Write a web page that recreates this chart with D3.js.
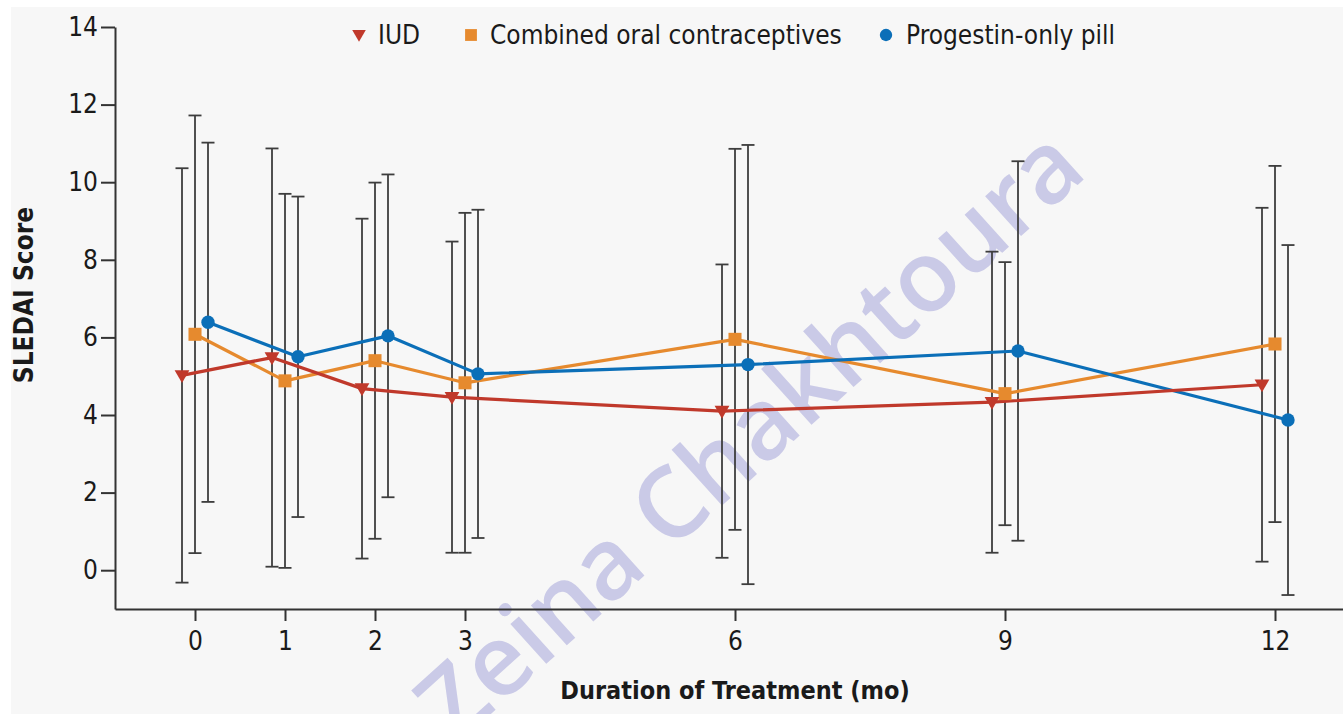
<!DOCTYPE html>
<html>
<head>
<meta charset="utf-8">
<script src="https://cdn.jsdelivr.net/npm/d3@7"></script>
<style>
  html, body { margin: 0; padding: 0; background: #ffffff; }
  svg { display: block; }
  .lbl { font-family: "Liberation Sans Narrow", "DejaVu Sans Condensed", Lato, sans-serif; fill: #1a1a1a; }
</style>
</head>
<body>
<svg id="chart" width="1343" height="714"></svg>
<script>
// ---- data ----
const months = [0, 1, 2, 3, 6, 9, 12];
const seriesNames = ["IUD", "Combined oral contraceptives", "Progestin-only pill"];
const iudMean = [5.02, 5.48, 4.68, 4.46, 4.10, 4.33, 4.78];
const iudSD   = [5.34, 5.39, 4.38, 4.01, 3.78, 3.88, 4.56];
const cocMean = [6.08, 4.88, 5.40, 4.83, 5.95, 4.55, 5.83];
const cocSD   = [5.64, 4.82, 4.59, 4.38, 4.91, 3.39, 4.59];
const popMean = [6.39, 5.50, 6.04, 5.06, 5.30, 5.65, 3.87];
const popSD   = [4.63, 4.13, 4.16, 4.23, 5.66, 4.89, 4.51];
const yTicks = [0, 2, 4, 6, 8, 10, 12, 14];
const xTicks = [0, 1, 2, 3, 6, 9, 12];
const xTitle = "Duration of Treatment (mo)";
const yTitle = "SLEDAI Score";
const watermark = "Zeina Chakhtoura";

// ---- styles ----
const colors = ["#c0392b", "#e68a2e", "#0b6fb8"];
const symbols = [d3.symbolTriangle, d3.symbolSquare, d3.symbolCircle];
const symRot = [180, 0, 0];
const symSize = [95, 170, 140];
const offsets = [-13, 0, 13];
const FONT = '"Liberation Sans Narrow", "DejaVu Sans Condensed", Lato, sans-serif';

const series = [
  { name: seriesNames[0], mean: iudMean, sd: iudSD },
  { name: seriesNames[1], mean: cocMean, sd: cocSD },
  { name: seriesNames[2], mean: popMean, sd: popSD }
];

const svg = d3.select("#chart");
const W = 1343, H = 714;

// panel background
svg.append("rect").attr("x", 11).attr("y", 7).attr("width", W - 11).attr("height", H - 7).attr("fill", "#f7f7f7");

// watermark: least-squares fit of the "Z", "C" and final "a" onto their places in the reference
(function () {
  const base = 100;
  const t = svg.append("text").attr("x", 0).attr("y", 0)
    .style("font-family", "'Open Sans', 'Noto Sans', sans-serif").style("font-size", base + "px")
    .style("font-weight", 600)
    .style("fill", "#cacae7").text(watermark);
  const node = t.node();
  const idx = [0, 6, watermark.length - 1];
  const tgt = [[440, 700], [684, 500], [1036, 166]];
  const src = idx.map(k => { const e = node.getExtentOfChar(k); return [e.x + e.width / 2, e.y + e.height / 2]; });
  const pc = [d3.mean(src, p => p[0]), d3.mean(src, p => p[1])];
  const qc = [d3.mean(tgt, p => p[0]), d3.mean(tgt, p => p[1])];
  let re = 0, im = 0, den = 0;
  src.forEach((p, k) => {
    const px = p[0] - pc[0], py = p[1] - pc[1];
    const qx = tgt[k][0] - qc[0], qy = tgt[k][1] - qc[1];
    re += qx * px + qy * py; im += qy * px - qx * py; den += px * px + py * py;
  });
  const s = Math.hypot(re, im) / den;
  const ang = Math.atan2(im, re) * 180 / Math.PI;
  t.attr("transform", `translate(${qc[0]},${qc[1]}) rotate(${ang}) scale(${s}) translate(${-pc[0]},${-pc[1]})`);
})();

const x = d3.scaleLinear().domain([-80 / 90, 1148 / 90]).range([115, 1343]);
const y = d3.scaleLinear().domain([-1, 14]).range([609, 27]);

// axes
const yAxis = svg.append("g").attr("transform", "translate(115,0)")
  .call(d3.axisLeft(y).tickValues(yTicks).tickSize(14).tickSizeOuter(0).tickPadding(3));
const xAxis = svg.append("g").attr("transform", "translate(0,609)")
  .call(d3.axisBottom(x).tickValues(xTicks).tickSize(12).tickSizeOuter(0).tickPadding(7));
[yAxis, xAxis].forEach(g => {
  g.select(".domain").attr("stroke", "#333").attr("stroke-width", 2);
  g.selectAll(".tick line").attr("stroke", "#333").attr("stroke-width", 2);
  g.selectAll(".tick text").attr("class", "lbl").attr("font-size", 26).style("fill", "#1a1a1a")
    .style("font-family", FONT);
});
xAxis.selectAll(".tick text").attr("dy", "0.85em");

// axis titles
svg.append("text").attr("class", "lbl").attr("x", 735).attr("y", 699).attr("text-anchor", "middle")
  .attr("font-size", 25).attr("font-weight", "bold").text(xTitle);
svg.append("text").attr("class", "lbl").attr("transform", "translate(33,295) rotate(-90)").attr("text-anchor", "middle")
  .attr("font-size", 26).attr("font-weight", "bold").text(yTitle);

// error bars
const cap = 6.5;
series.forEach((s, i) => {
  const g = svg.append("g").attr("stroke", "#3d3d3d").attr("stroke-width", 1.8);
  months.forEach((m, j) => {
    const cx = x(m) + offsets[i];
    const lo = y(s.mean[j] - s.sd[j]), hi = y(s.mean[j] + s.sd[j]);
    g.append("line").attr("x1", cx).attr("x2", cx).attr("y1", lo).attr("y2", hi);
    g.append("line").attr("x1", cx - cap).attr("x2", cx + cap).attr("y1", lo).attr("y2", lo);
    g.append("line").attr("x1", cx - cap).attr("x2", cx + cap).attr("y1", hi).attr("y2", hi);
  });
});

// lines
const drawOrder = [1, 2, 0];
drawOrder.forEach(i => {
  const s = series[i];
  const line = d3.line().x((d, j) => x(months[j]) + offsets[i]).y(d => y(d));
  svg.append("path").datum(s.mean).attr("d", line).attr("fill", "none")
    .attr("stroke", colors[i]).attr("stroke-width", 3.2).attr("stroke-linejoin", "round");
});
// markers
drawOrder.forEach(i => {
  const s = series[i];
  svg.append("g").selectAll("path").data(s.mean).join("path")
    .attr("d", d3.symbol().type(symbols[i]).size(symSize[i]))
    .attr("transform", (d, j) => `translate(${x(months[j]) + offsets[i]},${y(d) + (i === 0 ? -1 : 0)}) rotate(${symRot[i]})`)
    .attr("fill", colors[i]);
});

// legend
const legendItems = [
  { mx: 359, tx: 378 },
  { mx: 471, tx: 490 },
  { mx: 886, tx: 906 }
];
legendItems.forEach((L, i) => {
  svg.append("path").attr("d", d3.symbol().type(symbols[i]).size(i === 0 ? 80 : (i === 1 ? 140 : 120)))
    .attr("transform", `translate(${L.mx},${i === 0 ? 34 : 35}) rotate(${symRot[i]})`).attr("fill", colors[i]);
  svg.append("text").attr("class", "lbl").attr("x", L.tx).attr("y", 44).attr("font-size", 26).text(seriesNames[i]);
});
</script>
</body>
</html>
